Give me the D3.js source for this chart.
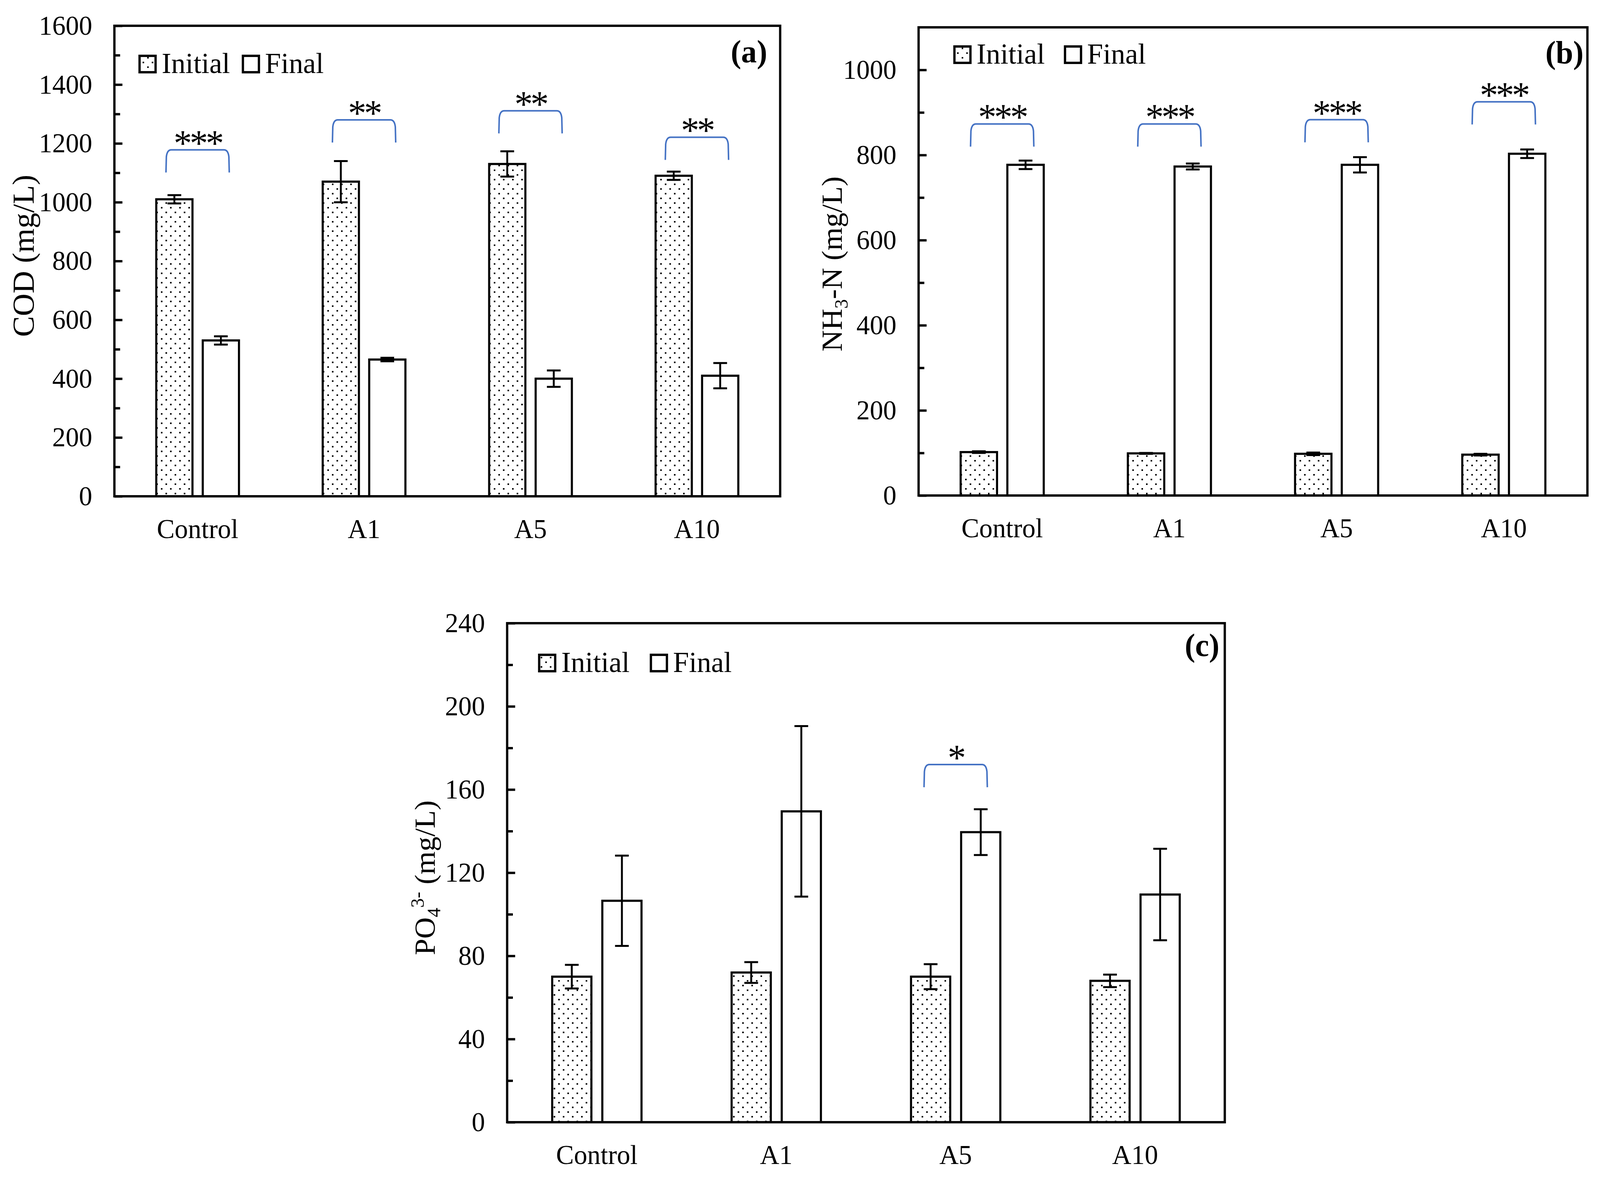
<!DOCTYPE html>
<html>
<head>
<meta charset="utf-8">
<script src="https://cdn.jsdelivr.net/npm/d3@7"></script>
<style>
  html, body { margin: 0; padding: 0; background: #fff; overflow: hidden; }
  svg { display: block; width: 100vw; height: 100vh; }
  text { font-family: "Liberation Serif", "Times New Roman", serif; }
</style>
</head>
<body>
<svg id="chart" viewBox="0 0 4196 3022" preserveAspectRatio="none"></svg>
<script>
// values
const categories = ["Control", "A1", "A5", "A10"];
const series = ["Initial", "Final"];

const codInitial    = [1010, 1070, 1130, 1090];
const codInitialErr = [14, 70, 43, 14];
const codFinal      = [530, 465, 400, 410];
const codFinalErr   = [14, 6, 28, 43];
const codSig        = ["***", "**", "**", "**"];
const codSigTop     = [1178, 1280, 1311, 1221];
const codTicks      = [0, 200, 400, 600, 800, 1000, 1200, 1400, 1600];

const nh3Initial    = [102, 99, 98, 96];
const nh3InitialErr = [2, 1, 3, 2];
const nh3Final      = [777, 773, 777, 803];
const nh3FinalErr   = [10, 7, 18, 10];
const nh3Sig        = ["***", "***", "***", "***"];
const nh3SigTop     = [873, 873, 883, 925];
const nh3Ticks      = [0, 200, 400, 600, 800, 1000];

const po4Initial    = [70, 72, 70, 68];
const po4InitialErr = [5.7, 5, 6, 3];
const po4Final      = [106.5, 149.5, 139.5, 109.5];
const po4FinalErr   = [21.7, 41, 11, 22];
const po4Sig        = ["", "", "*", ""];
const po4SigTop     = [null, null, 172, null];
const po4Ticks      = [0, 40, 80, 120, 160, 200, 240];

const BLUE = "#4472C4";
const svg = d3.select("#chart");

// dotted fill used by the "Initial" bars
const pat = svg.append("defs").append("pattern")
    .attr("id", "dots")
    .attr("patternUnits", "userSpaceOnUse")
    .attr("width", 24).attr("height", 24);
pat.append("rect").attr("width", 24).attr("height", 24).attr("fill", "#fff");
pat.append("rect").attr("x", 2).attr("y", 2).attr("width", 4).attr("height", 4).attr("fill", "#000");
pat.append("rect").attr("x", 14).attr("y", 14).attr("width", 4).attr("height", 4).attr("fill", "#000");

function drawPanel(p) {
  const x0 = d3.scaleBand().domain(categories).range([p.left, p.right]);
  const x1 = d3.scaleBand().domain(series).range([0, x0.bandwidth()])
      .paddingInner(0.18).paddingOuter(0.88);
  const y = d3.scaleLinear().domain([0, p.ymax]).range([p.bottom, p.top]);

  const rows = categories.map((c, i) => ({
    cat: c,
    vals: [
      { s: "Initial", v: p.initial[i], e: p.initialErr[i] },
      { s: "Final",   v: p.final[i],   e: p.finalErr[i] }
    ]
  }));

  const g = svg.append("g");
  const groups = g.selectAll(".grp").data(rows).enter().append("g")
      .attr("transform", d => `translate(${x0(d.cat)},0)`);

  groups.selectAll("rect").data(d => d.vals).enter().append("rect")
      .attr("x", d => x1(d.s) + 2.5)
      .attr("width", x1.bandwidth() - 5)
      .attr("y", d => y(d.v))
      .attr("height", d => y(0) - y(d.v))
      .attr("fill", d => d.s === "Initial" ? "url(#dots)" : "#fff")
      .attr("stroke", "#000")
      .attr("stroke-width", 5.5);

  // error bars
  const eb = groups.selectAll(".err").data(d => d.vals).enter().append("g")
      .attr("stroke", "#000").attr("stroke-width", 5);
  const cx = d => x1(d.s) + x1.bandwidth() / 2;
  eb.append("line")
      .attr("x1", cx).attr("x2", cx)
      .attr("y1", d => y(d.v - d.e)).attr("y2", d => y(d.v + d.e));
  eb.append("line")
      .attr("x1", d => cx(d) - 18).attr("x2", d => cx(d) + 18)
      .attr("y1", d => y(d.v + d.e)).attr("y2", d => y(d.v + d.e));
  eb.append("line")
      .attr("x1", d => cx(d) - 18).attr("x2", d => cx(d) + 18)
      .attr("y1", d => y(d.v - d.e)).attr("y2", d => y(d.v - d.e));

  // significance brackets
  const sig = categories.map((c, i) => ({ cat: c, t: p.sig[i], top: p.sigTop[i] }))
      .filter(d => d.t);
  const sg = g.selectAll(".sig").data(sig).enter().append("g");
  sg.append("path")
      .attr("fill", "none")
      .attr("stroke", BLUE)
      .attr("stroke-width", 4)
      .attr("d", d => {
        const c = x0(d.cat) + x0.bandwidth() / 2;
        const xa = c - 83, xb = c + 83;
        const yt = y(d.top), yb = yt + 58;
        return `M${xa},${yb} L${xa + 1},${yt + 18} Q${xa + 3},${yt} ${xa + 14},${yt}` +
               ` L${xb - 14},${yt} Q${xb - 3},${yt} ${xb - 1},${yt + 18} L${xb},${yb}`;
      });
  sg.append("text")
      .attr("x", d => x0(d.cat) + x0.bandwidth() / 2)
      .attr("y", d => y(d.top) + 15)
      .attr("text-anchor", "middle")
      .attr("font-size", 96)
      .attr("letter-spacing", -6)
      .text(d => d.t);

  // axes
  const yMajor = d3.axisLeft(y).tickValues(p.ticks).tickSize(-21).tickPadding(58)
      .tickFormat(d3.format("d"));
  const minor = d3.range(p.ticks[1] / 2, p.ymax, p.ticks[1]);
  const yMinor = d3.axisLeft(y).tickValues(minor).tickSize(-15).tickFormat("");
  const ax = g.append("g").attr("transform", `translate(${p.left},0)`).call(yMajor);
  const axm = g.append("g").attr("transform", `translate(${p.left},0)`).call(yMinor);
  [ax, axm].forEach(a => {
    a.select(".domain").remove();
    a.selectAll("line").attr("stroke", "#000").attr("stroke-width", 6);
  });
  ax.selectAll("text").attr("font-size", 70).attr("fill", "#000")
      .attr("font-family", "Liberation Serif, Times New Roman, serif");

  const xa = g.append("g").attr("transform", `translate(0,${p.bottom})`)
      .call(d3.axisBottom(x0).tickSize(0).tickPadding(57));
  xa.select(".domain").remove();
  xa.selectAll("text").attr("font-size", 70).attr("fill", "#000")
      .attr("font-family", "Liberation Serif, Times New Roman, serif");

  // frame
  g.append("rect")
      .attr("x", p.left).attr("y", p.top)
      .attr("width", p.right - p.left).attr("height", p.bottom - p.top)
      .attr("fill", "none").attr("stroke", "#000").attr("stroke-width", 6);

  // y label
  const yl = g.append("text")
      .attr("transform", `translate(${p.ylabX},${p.ylabY}) rotate(-90)`)
      .attr("text-anchor", "middle")
      .attr("font-size", p.ylabSize);
  p.ylabel.forEach(part => {
    const t = yl.append("tspan").text(part.t);
    if (part.small) t.attr("font-size", Math.round(p.ylabSize * 0.65));
    if (part.dy) t.attr("dy", part.dy);
  });

  // panel letter
  g.append("text")
      .attr("x", p.tagX).attr("y", p.tagY)
      .attr("text-anchor", "end")
      .attr("font-size", 82).attr("font-weight", "bold")
      .text(p.tag);

  // legend
  const lg = g.append("g");
  [{ s: "Initial", x: p.legX }, { s: "Final", x: p.legX2 }].forEach(item => {
    lg.append("rect")
        .attr("x", item.x).attr("y", p.legY - 44)
        .attr("width", 42).attr("height", 42)
        .attr("fill", item.s === "Initial" ? "url(#dots)" : "#fff")
        .attr("stroke", "#000").attr("stroke-width", 6);
    lg.append("text")
        .attr("x", item.x + 58).attr("y", p.legY)
        .attr("font-size", 75)
        .text(item.s);
  });
}

drawPanel({
  left: 300, right: 2046, top: 66, bottom: 1271, ymax: 1600, ticks: codTicks,
  initial: codInitial, initialErr: codInitialErr, final: codFinal, finalErr: codFinalErr,
  sig: codSig, sigTop: codSigTop,
  ylabX: 88, ylabY: 655, ylabSize: 80, ylabel: [{ t: "COD (mg/L)" }],
  tag: "(a)", tagX: 2012, tagY: 160,
  legX: 366, legX2: 637, legY: 187
});

drawPanel({
  left: 2409, right: 4163, top: 70, bottom: 1269, ymax: 1100, ticks: nh3Ticks,
  initial: nh3Initial, initialErr: nh3InitialErr, final: nh3Final, finalErr: nh3FinalErr,
  sig: nh3Sig, sigTop: nh3SigTop,
  ylabX: 2208, ylabY: 676, ylabSize: 76,
  ylabel: [{ t: "NH" }, { t: "3", small: true, dy: 15 }, { t: "-N (mg/L)", dy: -15 }],
  tag: "(b)", tagX: 4153, tagY: 162,
  legX: 2503, legX2: 2793, legY: 163
});

drawPanel({
  left: 1330, right: 3212, top: 1596, bottom: 2874, ymax: 240, ticks: po4Ticks,
  initial: po4Initial, initialErr: po4InitialErr, final: po4Final, finalErr: po4FinalErr,
  sig: po4Sig, sigTop: po4SigTop,
  ylabX: 1140, ylabY: 2248, ylabSize: 76,
  ylabel: [{ t: "PO" }, { t: "4", small: true, dy: 15 }, { t: "3-", small: true, dy: -44 },
           { t: " (mg/L)", dy: 29 }],
  tag: "(c)", tagX: 3198, tagY: 1680,
  legX: 1414, legX2: 1707, legY: 1721
});
</script>
</body>
</html>
